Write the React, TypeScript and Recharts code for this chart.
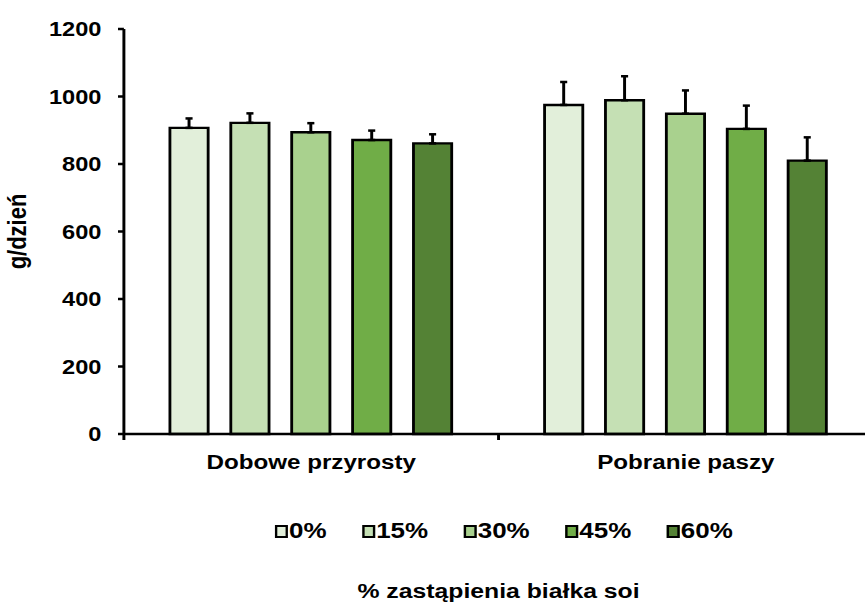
import { BarChart, Bar, XAxis, YAxis, ErrorBar, Legend, Label } from 'recharts'

const categories = ['Dobowe przyrosty', 'Pobranie paszy']
const levels = ['0%', '15%', '30%', '45%', '60%']
const colors = ['#E2EFDA', '#C5E0B4', '#A9D18E', '#70AD47', '#548235']
const gainValues = [907, 922, 894, 871, 861]
const gainErrors = [28, 28, 27, 28, 27]
const feedValues = [975, 989, 949, 904, 810]
const feedErrors = [68, 71, 69, 69, 69]
const yTicks = [0, 200, 400, 600, 800, 1000, 1200]

const font = '"Liberation Sans", Arial, sans-serif'
// the reference text is stretched sideways, so the whole chart is drawn narrower and scaled
const stretch = 1.18

const series = [
    { values: gainValues, errors: gainErrors },
    { values: feedValues, errors: feedErrors },
]

const data = categories.map((name, i) => {
    const row: Record<string, any> = { name }
    levels.forEach((_, j) => {
        row['v' + j] = series[i].values[j]
        row['e' + j] = [0, series[i].errors[j]]
    })
    return row
})

const CategoryTick = (props: any) => {
    const { x, y, payload, index, visibleTicksCount } = props
    const half = payload.offset ?? 158.75
    return (
        <g>
            <line x1={x - half} y1={y} x2={x - half} y2={y + 6} stroke='#000' strokeWidth={2.5} />
            {index === visibleTicksCount - 1 && (
                <line x1={x + half} y1={y} x2={x + half} y2={y + 6} stroke='#000' strokeWidth={2.5} />
            )}
            <text x={x} y={y + 35} textAnchor='middle' fill='#000' fontSize={20.5} fontWeight={700} fontFamily={font}>
                {payload.value}
            </text>
        </g>
    )
}

const renderLegend = (props: any) => {
    const items = props.payload || []
    return (
        <div style={{ display: 'flex', alignItems: 'center', fontFamily: font, fontSize: 22, fontWeight: 700, lineHeight: '22px', color: '#000' }}>
            {items.map((p: any, i: number) => (
                <div key={i} style={{ display: 'flex', alignItems: 'center', marginRight: i < items.length - 1 ? 30 : 0 }}>
                    <span style={{ display: 'inline-block', width: 11, height: 13, border: '2px solid #000', boxSizing: 'border-box', background: p.color, marginRight: 1 }} />
                    <span>{p.value}</span>
                </div>
            ))}
        </div>
    )
}

export default function App() {
    return (
        <div style={{ position: 'absolute', left: 0, top: 0, width: 865, height: 605, overflow: 'hidden', background: '#fff' }}>
            <div style={{ width: 745, transform: `scaleX(${stretch})`, transformOrigin: '0 0' }}>
                <BarChart width={745} height={605} data={data} margin={{ top: 29, right: 5, left: 0, bottom: 131 }} barGap={19.2} barSize={32.4}>
                    <XAxis dataKey='name' height={40} tickSize={0} tickMargin={0} tickLine={false}
                        axisLine={{ stroke: '#000', strokeWidth: 2.5 }} tick={<CategoryTick />} interval={0}>
                        <Label value='% zastąpienia białka soi' position='bottom' offset={109} fill='#000'
                            fontSize={21} fontWeight={700} fontFamily={font} />
                    </XAxis>
                    <YAxis width={105} domain={[0, 1200]} ticks={yTicks} tickSize={5} tickMargin={14}
                        axisLine={{ stroke: '#000', strokeWidth: 2.5 }} tickLine={{ stroke: '#000', strokeWidth: 2.5 }}
                        tick={{ fill: '#000', fontSize: 20, fontWeight: 700, fontFamily: font }}>
                        <Label value='g/dzień' angle={-90} position='insideLeft' offset={14} fill='#000'
                            fontSize={22} fontWeight={700} fontFamily={font} style={{ textAnchor: 'middle' }} />
                    </YAxis>
                    <Legend layout='horizontal' verticalAlign='middle' align='center' content={renderLegend}
                        wrapperStyle={{ top: 520, left: 233, width: 420 }} />
                    {levels.map((lvl, j) => (
                        <Bar key={lvl} dataKey={'v' + j} name={lvl} fill={colors[j]} stroke='#000' strokeWidth={2.4} isAnimationActive={false}>
                            <ErrorBar dataKey={'e' + j} width={3} stroke='#000' strokeWidth={2.5} direction='y' isAnimationActive={false} />
                        </Bar>
                    ))}
                </BarChart>
            </div>
        </div>
    )
}
